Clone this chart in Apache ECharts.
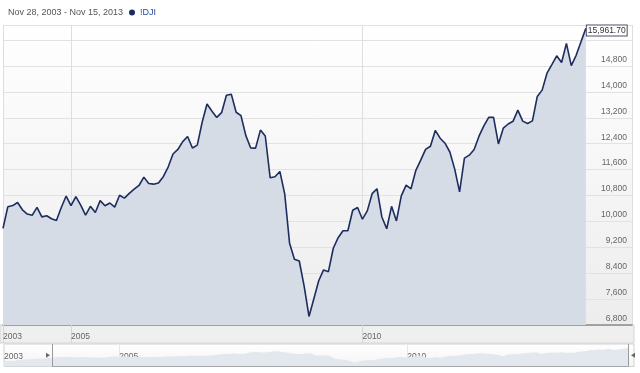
<!DOCTYPE html>
<html><head><meta charset="utf-8">
<script src="https://cdn.jsdelivr.net/npm/echarts@6/dist/echarts.min.js"></script>
<style>html,body{margin:0;padding:0;background:#fff}#c{width:640px;height:373px}</style>
</head><body><div id="c"></div>
<script>
// ---- data ----
const seriesName = '!DJI';
const rangeText = 'Nov 28, 2003 - Nov 15, 2013';
const firstMonth = [2003, 11];          // first monthly point of the main chart
// Dow Jones monthly closes, Nov 2003 .. Nov 2013 (last = Nov 15, 2013)
const closes = [
  9782.46, 10453.92,
  10488.07, 10583.92, 10357.70, 10225.57, 10188.45, 10435.48, 10139.71, 10173.92, 10080.27, 10027.47, 10428.02, 10783.01,
  10489.94, 10766.23, 10503.76, 10192.51, 10467.48, 10274.97, 10640.91, 10481.60, 10568.70, 10440.07, 10805.87, 10717.50,
  10864.86, 10993.41, 11109.32, 11367.14, 11168.31, 11150.22, 11185.68, 11381.15, 11679.07, 12080.73, 12221.93, 12463.15,
  12621.69, 12268.63, 12354.35, 13062.91, 13627.64, 13408.62, 13211.99, 13357.74, 13895.63, 13930.01, 13371.72, 13264.82,
  12650.36, 12266.39, 12262.89, 12820.13, 12638.32, 11350.01, 11378.02, 11543.55, 10850.66, 9325.01, 8829.04, 8776.39,
  8000.86, 7062.93, 7608.92, 8168.12, 8500.33, 8447.00, 9171.61, 9496.28, 9712.28, 9712.73, 10344.84, 10428.05,
  10067.33, 10325.26, 10856.63, 11008.61, 10136.63, 9774.02, 10465.94, 10014.72, 10788.05, 11118.49, 11006.02, 11577.51,
  11891.93, 12226.34, 12319.73, 12810.54, 12569.79, 12414.34, 12143.24, 11613.53, 10913.38, 11955.01, 12045.68, 12217.56,
  12632.91, 12952.07, 13212.04, 13213.63, 12393.45, 12880.09, 13008.68, 13090.84, 13437.13, 13096.46, 13025.58, 13104.14,
  13860.58, 14054.49, 14578.54, 14839.80, 15115.57, 14909.60, 15499.54, 14810.31, 15129.67, 15545.75, 15961.70
];
// navigator: months before the main window
const navFirstMonth = [2003, 1];
const navPrefix = [8053.81, 7891.08, 7992.13, 8480.09, 8850.26, 8985.44, 9233.80, 9415.82, 9275.06, 9801.12];

// axis settings
const baseYear = 2005;                  // x = months since Jan of baseYear
const yearTickEvery = 60;               // a labelled year every 5 years
const yMin = 6800, yStep = 800, yMax = 16066, yHideFrom = 15600;
const mainXMax = 115.5;
const navXMax = 107.25;
const navYMin = 4500, navYMax = 18500, navBarTop = 6600;

// ---- helpers ----
const mx = (ym) => (ym[0] - baseYear) * 12 + (ym[1] - 1);
const x0 = mx(firstMonth);
const nx0 = mx(navFirstMonth);
const mainData = closes.map((v, i) => [x0 + i, v]);
const navData = navPrefix.concat(closes).map((v, i) => [nx0 + i, v]);
const selStart = x0, selEnd = x0 + closes.length - 1;
const yearFmt = (v) => String(baseYear + Math.floor(v / 12 + 1e-9));

const chart = echarts.init(document.getElementById('c'), null, {renderer: 'canvas'});
const font = 'Liberation Sans, Arial, sans-serif';
chart.setOption({
  animation: false,
  textStyle: {fontFamily: font},
  title: {text: rangeText, left: 3, top: 3, textStyle: {fontSize: 9, fontWeight: 'normal', color: '#555', fontFamily: font}},
  legend: {data: [seriesName], left: 124, top: 3, icon: 'circle', itemWidth: 6, itemHeight: 6,
    textStyle: {fontSize: 9, color: '#2b4b9b', fontFamily: font}, selectedMode: false},
  graphic: [{type: 'rect', z: -10, silent: true, shape: {x: 0, y: 325, width: 634, height: 18},
    style: {fill: '#efefef', stroke: '#d4d4d4', lineWidth: 1}}],
  grid: [
    {left: 2, right: 8, top: 25, bottom: 48, show: true, borderWidth: 0,
     backgroundColor: {type: 'linear', x: 0, y: 0, x2: 0, y2: 1,
       colorStops: [{offset: 0, color: '#ffffff'}, {offset: 1, color: '#ededed'}]}},
    {left: 4, right: 6, top: 344, bottom: 6.5, show: true, borderColor: '#d0d0d0', borderWidth: 1,
     backgroundColor: {type: 'linear', x: 0, y: 0, x2: 0, y2: 1,
       colorStops: [{offset: 0, color: '#ffffff'}, {offset: 1, color: '#f4f4f4'}]}}
  ],
  xAxis: [
    {type: 'value', gridIndex: 0, min: x0, max: mainXMax, minInterval: yearTickEvery, maxInterval: yearTickEvery,
     axisLine: {show: true, lineStyle: {color: '#8a8a8a', width: 1.5}},
     axisTick: {show: true, length: 18, lineStyle: {color: '#d6d6d6'}},
     axisLabel: {showMinLabel: true, showMaxLabel: false, align: 'left', margin: 7, fontSize: 8.5, color: '#666', formatter: yearFmt},
     splitLine: {show: true, lineStyle: {color: '#dedede'}}},
    {type: 'value', gridIndex: 1, min: nx0, max: navXMax, minInterval: yearTickEvery, maxInterval: yearTickEvery,
     axisLine: {show: false}, axisTick: {show: false},
     axisLabel: {inside: true, showMinLabel: true, showMaxLabel: false, align: 'left', margin: 5, fontSize: 8.5, color: '#666', formatter: yearFmt},
     splitLine: {show: true, lineStyle: {color: '#e8e8e8'}}}
  ],
  yAxis: [
    {type: 'value', gridIndex: 0, position: 'right', min: yMin, max: yMax, interval: yStep,
     axisLine: {show: false}, axisTick: {show: false},
     axisLabel: {inside: true, margin: 5, fontSize: 8.5, color: '#666', align: 'right', verticalAlign: 'bottom',
       padding: [0, 0, 2, 0], showMaxLabel: false,
       formatter: (v) => v >= yHideFrom ? '' : v.toLocaleString('en-US')},
     splitLine: {show: true, lineStyle: {color: '#e2e2e2'}}},
    {type: 'value', gridIndex: 1, min: navYMin, max: navYMax, show: false}
  ],
  series: [
    {name: seriesName, type: 'line', xAxisIndex: 0, yAxisIndex: 0, data: mainData, showSymbol: false, silent: true, z: 3,
     lineStyle: {color: '#1c2d5e', width: 1.6}, itemStyle: {color: '#1c2d5e'},
     areaStyle: {color: '#d5dce5', opacity: 1},
     endLabel: {show: true, distance: 1, offset: [0, 2], fontSize: 8.5, color: '#333', backgroundColor: '#fff',
       borderColor: '#4a5068', borderWidth: 1, padding: [1, 1, 0, 1],
       formatter: (p) => Number(p.value[1]).toLocaleString('en-US', {minimumFractionDigits: 2, maximumFractionDigits: 2})}},
    {name: 'navigator', type: 'line', xAxisIndex: 1, yAxisIndex: 1, data: navData, showSymbol: false, silent: true, z: 2,
     lineStyle: {width: 0, opacity: 0}, areaStyle: {color: '#e3e8ee', opacity: 1}},
    {name: 'selection', type: 'line', xAxisIndex: 1, yAxisIndex: 1, data: [], silent: true, z: 4,
     markArea: {silent: true, itemStyle: {color: '#555'},
       data: [[{xAxis: selStart, yAxis: navYMin}, {xAxis: selEnd, yAxis: navBarTop}]]},
     markLine: {silent: true, symbol: ['none', 'none'], label: {show: false},
       lineStyle: {color: '#9a9a9a', width: 1, type: 'solid'}, data: [{xAxis: selStart}, {xAxis: selEnd}]},
     markPoint: {silent: true, symbol: 'triangle', symbolSize: [5, 4], label: {show: false}, itemStyle: {color: '#666'},
       data: [{coord: [selStart, (navYMin + navYMax) / 2], symbolRotate: -90, symbolOffset: [-4, 0]},
              {coord: [selEnd, (navYMin + navYMax) / 2], symbolRotate: 90, symbolOffset: [5, 0]}]}}
  ]
});
</script></body></html>
